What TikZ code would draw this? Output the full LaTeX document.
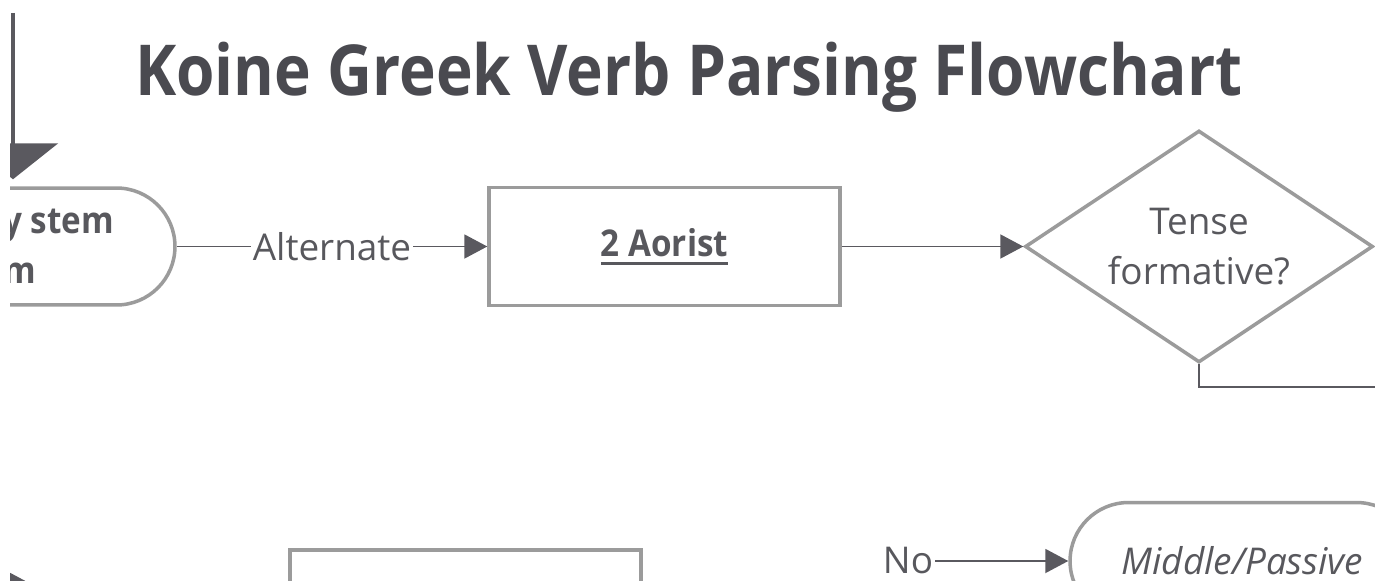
\documentclass[tikz,border=0pt]{standalone}
\usepackage{fontspec}
\setmainfont{Open Sans}
\newfontfamily\semib{Open Sans}[FakeStretch=0.9]
\newfontfamily\titlefam{Open Sans}[FakeStretch=0.884]
\usetikzlibrary{arrows.meta, calc, positioning, shapes.geometric}

\definecolor{titlegray}{RGB}{74,74,80}
\definecolor{textgray}{RGB}{88,88,93}
\definecolor{linegray}{RGB}{155,155,155}
\definecolor{arrowgray}{RGB}{90,89,95}

% thick underline for the linked box text
\newcommand{\thickul}[1]{\leavevmode\setbox0\hbox{#1}\rlap{\rule[-5pt]{\wd0}{1.6pt}}\box0}

\tikzset{
  bodyfont/.style={font=\fontsize{21}{28.5}\selectfont},
  boldfont/.style={font=\fontsize{21}{28.5}\selectfont\semib\bfseries},
  box/.style={draw=linegray, line width=2pt, minimum width=7.02cm, minimum height=2.36cm, text=textgray, bodyfont},
  term/.style={box, rounded corners=1.17cm, minimum height=2.34cm},
  decision/.style={diamond, draw=linegray, line width=2pt, aspect=1.5, inner sep=0pt,
    minimum width=6.96cm, minimum height=4.64cm, align=center, text=textgray, bodyfont},
  conn/.style={draw=arrowgray, line width=1.1pt, -{Triangle[length=0.46cm, width=0.48cm]}},
  plain/.style={draw=arrowgray, line width=1.1pt},
  lbl/.style={text=textgray, bodyfont, inner sep=1pt, fill=white}
}

\begin{document}
\begin{tikzpicture}[x=0.02cm, y=-0.02cm]

% Picture frame, the chart goes on past every edge
\useasboundingbox (0,0) rectangle (1375,581);
\clip (10,0) rectangle (1375,581);

% Title
\node[anchor=base, text=titlegray, font=\fontsize{40}{50}\selectfont\titlefam\bfseries] (title) at (689,95) {Koine Greek Verb Parsing Flowchart};

% Coordinates where connectors leave the visible part
\coordinate (top) at (13,13);
\coordinate (exit) at (1420,387);
\coordinate (inA) at (-40,585);
\coordinate (inB) at (33,585);

% Nodes of the upper row
\node[term, minimum width=4.66cm, align=left, boldfont] (stem) at (58.5,246.5) {y stem\\m};
\node[box, boldfont] (aorist) at (664.5,246.5) {\thickul{2 Aorist}};
\node[decision] (tense) at (1199,246.5) {Tense\\formative?};

% Nodes of the lower row
\node[box] (lower) at (465.5,609) {};
\node[lbl, fill=none] (no) at (908,561) {No};
\node[term, minimum width=6.9cm, font=\fontsize{21}{28.5}\selectfont\itshape] (midpass) at (1242.5,561) {Middle/Passive};

% Big arrow coming down into the stem node
\draw[draw=arrowgray, line width=1.8pt, -{Triangle[length=0.72cm, width=1.8cm]}, shorten >=0.14cm] (top) -- (top |- stem.north);

% Connectors
\draw[conn] (stem.east) -- (aorist.west) node[lbl, midway] {Alternate};
\draw[conn] (aorist.east) -- (tense.west);
\draw[plain] (tense.south) |- (exit);
\draw[conn] (no.east) -- (midpass.west);
\draw[conn] (inA) -- (inB);

\end{tikzpicture}
\end{document}
